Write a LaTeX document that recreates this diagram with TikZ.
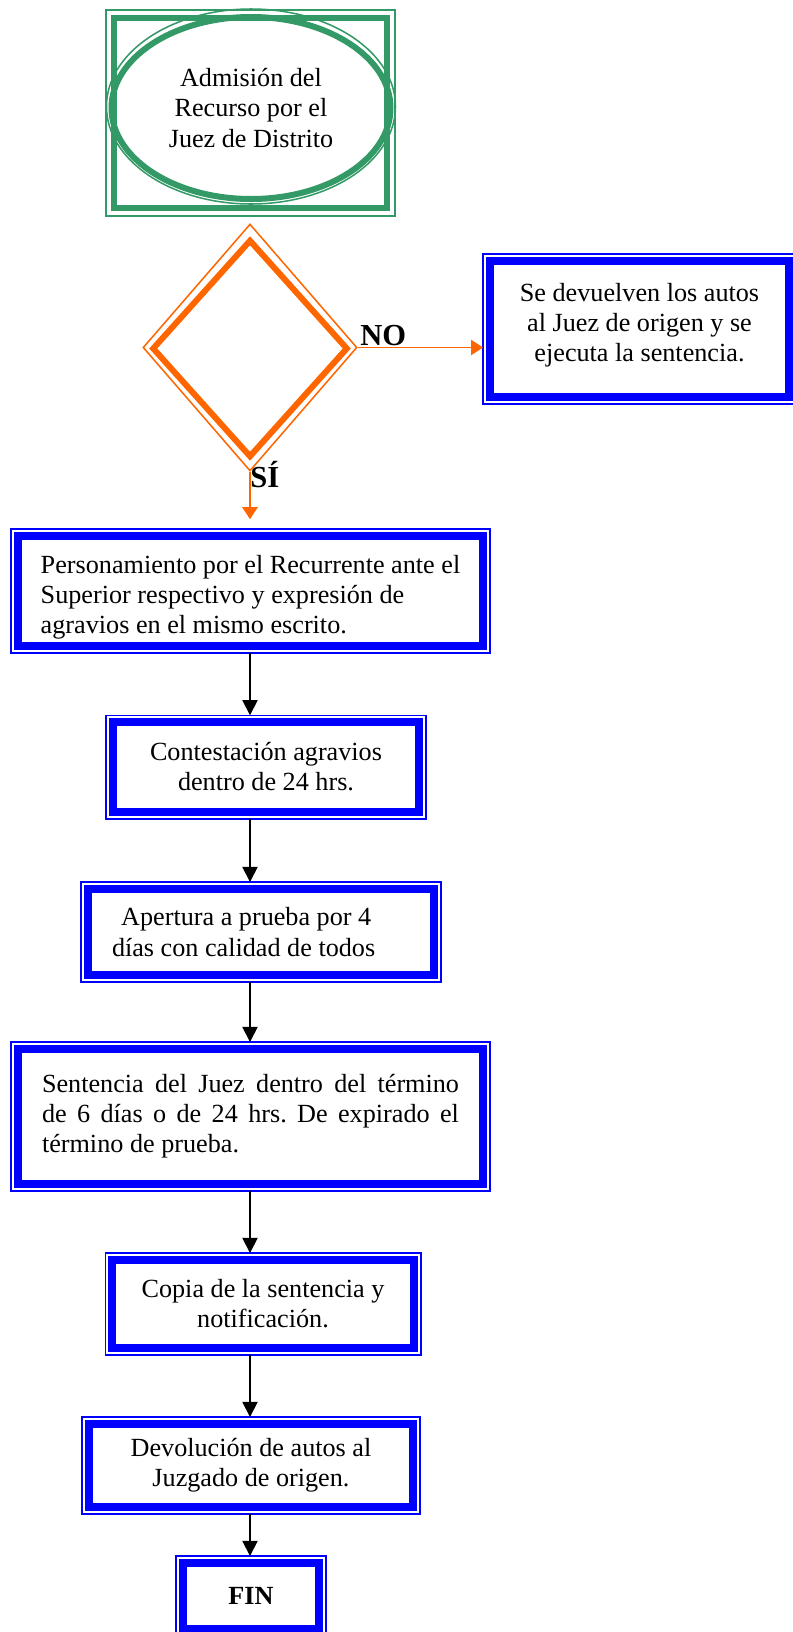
\documentclass[tikz,border=0pt]{standalone}
\usepackage{fontspec}
\setmainfont{Liberation Serif}
\usetikzlibrary{shapes.geometric, arrows.meta}
\definecolor{frameblue}{RGB}{0,0,255}
\definecolor{startgreen}{RGB}{51,153,102}
\definecolor{askorange}{RGB}{255,102,0}
\newcommand{\pxu}{0.4583pt}
\tikzset{
every node/.style={font=\fontsize{12}{13.8}\selectfont\frenchspacing}, % Times-like text everywhere
boxsize/.style 2 args={minimum width=#1*\pxu, minimum height=#2*\pxu}, % sizes in sketch pixels
stepbox/.style={rectangle, draw=frameblue, line width=3.7pt, fill=white, inner sep=0pt, outer sep=3.2pt},
startbox/.style={rectangle, draw=startgreen, line width=3.2pt, inner sep=0pt, outer sep=3.7pt},
startring/.style={ellipse, draw=startgreen, line width=0.7pt, inner sep=0pt},
startell/.style={ellipse, draw=startgreen, line width=2.75pt, inner sep=0pt, align=center},
askframe/.style={diamond, draw=askorange, line width=0.7pt, inner sep=0pt},
ask/.style={diamond, draw=askorange, line width=2.75pt, inner sep=0pt},
answer/.style={font=\bfseries\fontsize{14}{16}\selectfont, inner sep=0pt, anchor=base west},
flow/.style={draw=black, line width=0.8pt, -{Triangle[length=7pt,width=7pt]}},
askflow/.style={draw=askorange, line width=0.8pt, -{Triangle[length=5.5pt,width=7pt]}},
}
\begin{document}
\begin{tikzpicture}[x=0.4583pt, y=0.4583pt] % one unit is one pixel of the sketch
    \useasboundingbox (0,0) rectangle (792,-1632);
    \coordinate (spine) at (250,0);

    % start
    \node[startbox, boxsize={273}{190}] (admbox) at (250.5,-113) {};
    \draw[startgreen, line width=0.7pt] (admbox.north west) rectangle (admbox.south east);
    \node[startring, boxsize={289}{195}] (admring) at (251,-106.5) {};
    \node[startell, boxsize={279}{182}] (adm) at (251,-108) {Admisión del\\Recurso por el\\Juez de Distrito};

    % question
    \node[askframe, boxsize={214}{247}] (decframe) at (250,-347.5) {};
    \node[ask, boxsize={196}{218}] (dec) at (250,-348.5) {};
    \node[answer] (lblno) at (360,-345) {NO};
    \node[answer] (lblsi) at (250,-487) {SÍ};

    % steps
    \node[stepbox, boxsize={299}{136}, align=center] (devuel) at (639.5,-329)
        {Se devuelven los autos\\al Juez de origen y se\\ejecuta la sentencia.\\[-8pt]};
    \node[stepbox, boxsize={465}{110}, align=left] (pers) at (250.5,-591)
        {\rule{0pt}{14pt}Personamiento por el Recurrente ante el\\Superior respectivo y expresión de\\agravios en el mismo escrito.};
    \node[stepbox, boxsize={306.5}{89.5}, align=center] (cont) at (266,-767)
        {Contestación agravios\\dentro de 24 hrs.};
    \node[stepbox, boxsize={346}{86}, align=flush left, text width=298*\pxu] (aper) at (261,-932)
        {\hspace*{0.35em}Apertura a prueba por 4\\días con calidad de todos};
    \node[stepbox, boxsize={465}{135}, align=justify, text width=417*\pxu] (sent) at (250.5,-1116.5)
        {Sentencia del Juez dentro del término\linebreak de 6 días o de 24 hrs. De expirado el\linebreak término de prueba.};
    \node[stepbox, boxsize={301.5}{88}, align=center] (copia) at (263,-1304)
        {Copia de la sentencia y\\notificación.};
    \node[stepbox, boxsize={324}{83}, align=center] (devol) at (251,-1465.5)
        {Devolución de autos al\\Juzgado de origen.};
    \node[stepbox, boxsize={136.5}{66}, font=\bfseries\fontsize{12}{13.8}\selectfont] (fin) at (251,-1596) {FIN};

    % thin outer frames
    \foreach \n in {devuel,pers,cont,aper,sent,copia,devol,fin}
        \draw[frameblue, line width=0.7pt] (\n.north west) rectangle (\n.south east);

    % connectors
    \draw[askflow] (decframe.east) -- (devuel.west |- decframe.east);
    \draw[askflow] (decframe.south) -- ([yshift=4.5pt]pers.north -| spine);
    \draw[flow] (pers.south -| spine) -- (cont.north -| spine);
    \draw[flow] (cont.south -| spine) -- (aper.north -| spine);
    \draw[flow] (aper.south -| spine) -- (sent.north -| spine);
    \draw[flow] (sent.south -| spine) -- (copia.north -| spine);
    \draw[flow] (copia.south -| spine) -- (devol.north -| spine);
    \draw[flow] (devol.south -| spine) -- (fin.north -| spine);
\end{tikzpicture}
\end{document}
